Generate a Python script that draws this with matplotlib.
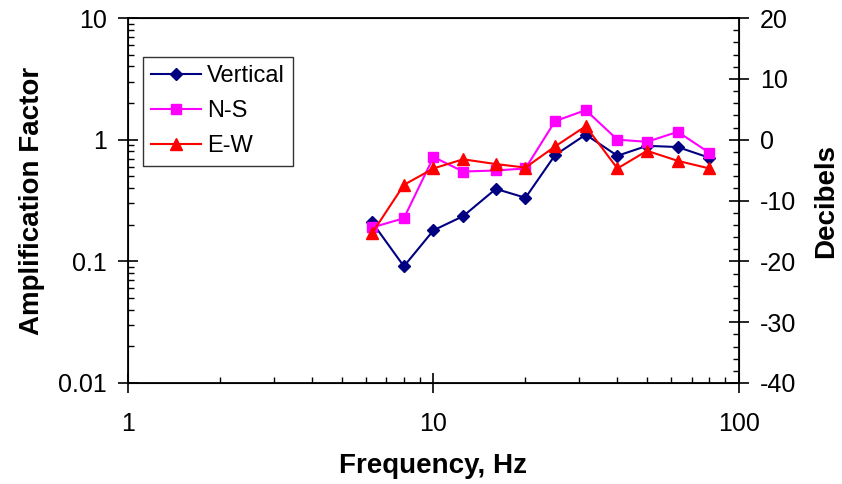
import numpy as np
import matplotlib.pyplot as plt
from matplotlib.ticker import LogLocator, MultipleLocator, NullFormatter

plt.rcParams['font.family'] = ['Liberation Sans', 'DejaVu Sans']
plt.rcParams['axes.unicode_minus'] = False

freq = [6.3, 8, 10, 12.5, 16, 20, 25, 31.5, 40, 50, 63, 80]
vertical = [0.209, 0.091, 0.180, 0.235, 0.394, 0.333, 0.747, 1.10, 0.737, 0.89, 0.87, 0.71]
ns = [0.19, 0.226, 0.72, 0.547, 0.558, 0.58, 1.42, 1.75, 1.0, 0.96, 1.16, 0.78]
ew = [0.171, 0.425, 0.58, 0.69, 0.63, 0.59, 0.88, 1.29, 0.58, 0.81, 0.67, 0.58]

fig = plt.figure(figsize=(8.42, 4.84), dpi=100)
# plot box: x 128..739 px, y 18..383 px
ax = fig.add_axes([128/842, 1 - 383/484, 611/842, 365/484])

ax.plot(freq, vertical, color='#000080', marker='D', markersize=6.5, lw=1.5, label='Vertical')
ax.plot(freq, ns, color='#FF00FF', marker='s', markersize=7, lw=1.5, label='N-S')
ax.plot(freq, ew, color='#FF0000', marker='^', markersize=8.5, lw=1.5, label='E-W')

ax.set_xscale('log')
ax.set_yscale('log')
ax.set_xlim(1, 100)
ax.set_ylim(0.01, 10)
ax.set_xticks([1, 10, 100])
ax.set_xticklabels(['1', '10', '100'])
ax.set_yticks([0.01, 0.1, 1, 10])
ax.set_yticklabels(['0.01', '0.1', '1', '10'])
ax.xaxis.set_minor_locator(LogLocator(base=10, subs=np.arange(2, 10)))
ax.yaxis.set_minor_locator(LogLocator(base=10, subs=np.arange(2, 10)))
ax.xaxis.set_minor_formatter(NullFormatter())
ax.yaxis.set_minor_formatter(NullFormatter())

ax.tick_params(which='major', direction='inout', length=14, width=1.2, labelsize=18, pad=8)
ax.tick_params(which='minor', direction='in', length=4.5, width=1)
ax.tick_params(axis='x', which='major', pad=14)
for s in ax.spines.values():
    s.set_linewidth(1.3)

ax.set_xlabel('Frequency, Hz', fontsize=20, fontweight='bold', labelpad=12)
ax.set_ylabel('Amplification Factor', fontsize=20, fontweight='bold', labelpad=10)

leg = ax.legend(loc='upper left', bbox_to_anchor=(15/611, 1 - 39/365), fontsize=17, frameon=True,
                fancybox=False, edgecolor='black', handlelength=2.1, borderpad=0.35,
                labelspacing=0.55, handletextpad=0.25, borderaxespad=0)
leg.get_frame().set_linewidth(1)

ax2 = ax.twinx()
ax2.set_ylim(-40, 20)
ax2.yaxis.set_major_locator(MultipleLocator(10))
ax2.yaxis.set_minor_locator(MultipleLocator(2))
ax2.tick_params(which='major', direction='inout', length=14, width=1.2, labelsize=18, pad=8)
ax2.tick_params(which='minor', direction='in', length=4.5, width=1)
ax2.set_ylabel('Decibels', fontsize=20, fontweight='bold', labelpad=12)

fig.savefig('out.png', dpi=100)
